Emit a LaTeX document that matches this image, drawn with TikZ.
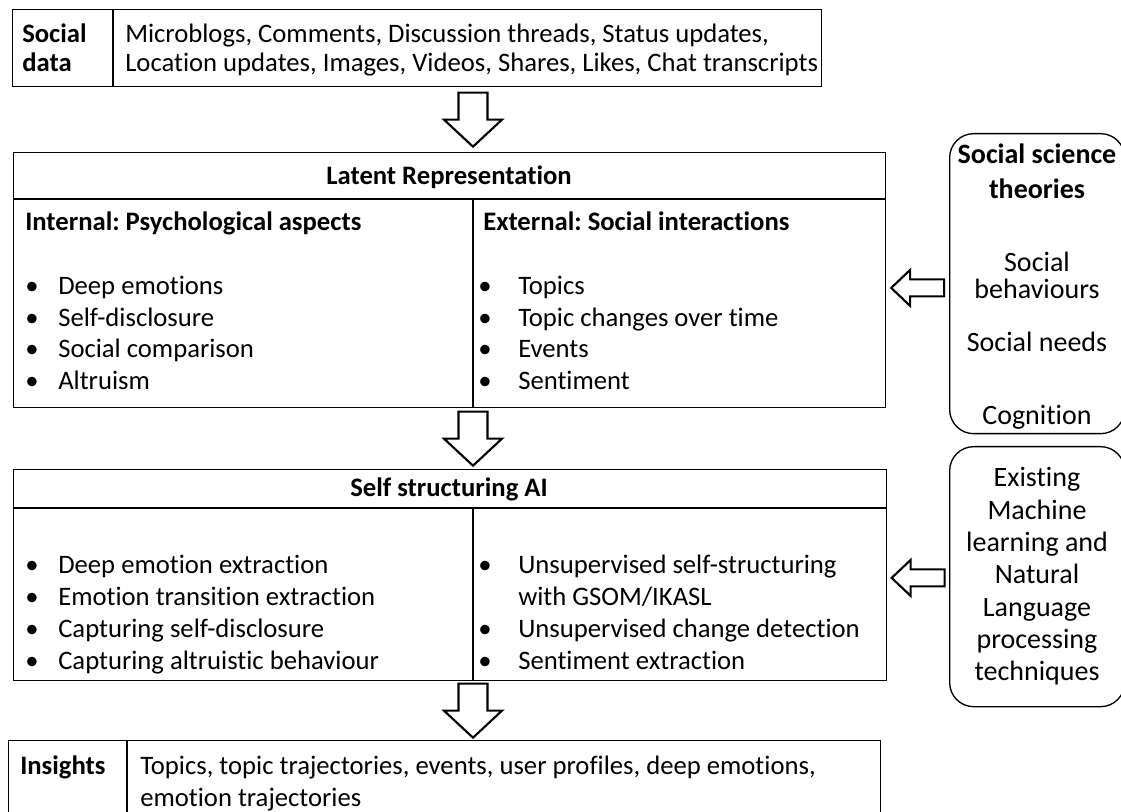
\documentclass[tikz,border=0pt]{standalone}
\usepackage{fontspec}
\setmainfont{Carlito}[Ligatures=NoCommon, RawFeature={-liga;-clig;-calt}]
\usetikzlibrary{calc}
\frenchspacing

\tikzset{
  frame/.style={draw, line width=1pt, inner sep=0pt},
  box/.style 2 args={frame, anchor=north west, minimum width=#1*.75pt, minimum height=#2*.75pt},
  rnd/.style 2 args={box={#1}{#2}, rounded corners=18pt},
  blk/.style={draw, line width=1.6pt, fill=white, line join=miter},
  txt/.style={anchor=base west, inner sep=0pt, font=\fontsize{20}{24}\selectfont},
  hd/.style={txt, font=\fontsize{20}{24}\selectfont\bfseries},
  bul/.style={anchor=base, inner sep=0pt, font=\fontsize{20}{24}\selectfont},
  side/.style={anchor=base, inner sep=0pt, font=\fontsize{21}{24}\selectfont},
  sideb/.style={side, font=\fontsize{21}{24}\selectfont\bfseries},
  pics/downarr/.style={code={
    \draw[blk] (-14.5,-27) -- (14.5,-27) -- (14.5,0) -- (29,0) -- (0,27) -- (-29,0) -- (-14.5,0) -- cycle;}},
  pics/leftarr/.style={code={
    \draw[blk] (-26.5,0) -- (-7.5,-18) -- (-7.5,-8.5) -- (26.5,-8.5) -- (26.5,8.5) -- (-7.5,8.5) -- (-7.5,18) -- cycle;}}
}

\begin{document}
\begin{tikzpicture}[x=.75pt, y=-.75pt]
        \useasboundingbox (0,0) rectangle (1121,812);
        % boxes
        \node[box={809}{77}] (sd) at (12,9) {};
        \node[box={872}{255}] (lat) at (13,152) {};
        \node[box={873}{211}] (self) at (13,469) {};
        \node[box={872}{95}] (ins) at (8,740) {};
        \node[rnd={175}{300}] (sst) at (949,133) {};
        \node[rnd={175}{260}] (eml) at (949,446) {};
        \coordinate (dv) at (473,0);
        \draw[frame] (113,9) -- (113,86);
        \draw[frame] (13,199) -- (885,199);
        \draw[frame] (473,199) -- (473,407);
        \draw[frame] (13,508) -- (886,508);
        \draw[frame] (473,508) -- (473,680);
        \draw[frame] (127,740) -- (127,835);
        % block arrows
        \pic at ($(sd.south -| dv)!.5!(lat.north -| dv)$) {downarr};
        \pic at ($(lat.south -| dv)!.5!(self.north -| dv)$) {downarr};
        \pic at ($(self.south -| dv)!.5!(ins.north -| dv)$) {downarr};
        \pic at ($(lat.east)!.5!(sst.west)+(0,6)$) {leftarr};
        \pic at ($(self.east)!.5!(eml.west)+(0,2)$) {leftarr};
        % social data
        \node[hd] (sdh1) at (22,43) {Social};
        \node[hd] (sdh2) at (22,72) {data};
        \node[txt] (sdt1) at (125,43) {Microblogs, Comments, Discussion threads, Status updates,};
        \node[txt] (sdt2) at (125,72) {Location updates, Images, Videos, Shares, Likes, Chat transcripts};
        % latent representation
        \node[hd, anchor=base] (lath) at (449,185) {Latent Representation};
        \node[hd] (inth) at (25,231) {Internal: Psychological aspects};
        \node[hd] (exth) at (483,231) {External: Social interactions};
        \foreach \t [count=\k from 0] in {Deep emotions, Self-disclosure, Social comparison, Altruism}{
          \node[bul] (ib\k) at (32,295+31.5*\k) {\textbullet};
          \node[txt] (it\k) at (58,295+31.5*\k) {\t};
        }
        \foreach \t [count=\k from 0] in {Topics, Topic changes over time, Events, Sentiment}{
          \node[bul] (eb\k) at (485,295+31.5*\k) {\textbullet};
          \node[txt] (et\k) at (518,295+31.5*\k) {\t};
        }
        % self structuring AI
        \node[hd, anchor=base] (selfh) at (449,497) {Self structuring AI};
        \foreach \t [count=\k from 0] in {Deep emotion extraction, Emotion transition extraction, Capturing self-disclosure, Capturing altruistic behaviour}{
          \node[bul] (sb\k) at (32,574+31.7*\k) {\textbullet};
          \node[txt] (st\k) at (58,574+31.7*\k) {\t};
        }
        \foreach \t [count=\k from 0] in {Unsupervised self-structuring, with GSOM/IKASL, Unsupervised change detection, Sentiment extraction}
          \node[txt] (ut\k) at (518,574+31.7*\k) {\t};
        \foreach \k in {0,2,3}
          \node[bul] (ub\k) at (485,574+31.7*\k) {\textbullet};
        % insights
        \node[hd] (insh) at (20,774) {Insights};
        \node[txt] (inst1) at (140,774) {Topics, topic trajectories, events, user profiles, deep emotions,};
        \node[txt] (inst2) at (140,806) {emotion trajectories};
        % side boxes
        \node[sideb] (sst1) at (1037,164) {Social science};
        \node[sideb] (sst2) at (1037,199) {theories};
        \node[side] (sst3) at (1037,272) {Social};
        \node[side] (sst4) at (1037,299) {behaviours};
        \node[side] (sst5) at (1037,352) {Social needs};
        \node[side] (sst6) at (1037,425) {Cognition};
        \foreach \t [count=\k from 0] in {Existing, Machine, learning and, Natural, Language, processing, techniques}
          \node[side] (ml\k) at (1037,487+32.3*\k) {\t};
\end{tikzpicture}
\end{document}
